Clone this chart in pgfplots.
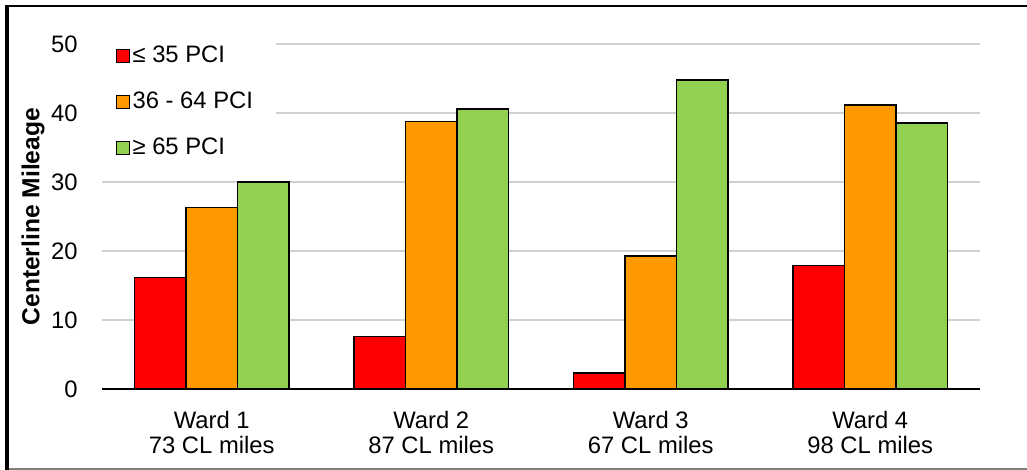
\documentclass[border=0pt]{standalone}
\usepackage{pgfplots}
\pgfplotsset{compat=1.18}
\usepackage{fontspec}
\setmainfont{Liberation Sans}

\definecolor{lowpci}{HTML}{FF0000}
\definecolor{midpci}{HTML}{FF9900}
\definecolor{highpci}{HTML}{92D050}
\definecolor{gridgray}{HTML}{D0D0D0}
\definecolor{framegray}{HTML}{7F7F7F}

% Centerline mileage by ward and pavement condition band
\pgfplotstableread{
x  low  mid  high
0  16.2 26.3 30.0
1  7.6  38.8 40.6
2  2.3  19.3 44.8
3  17.9 41.2 38.6
}\wardtable

\begin{document}
\fontsize{11.9}{12.6}\selectfont
\begin{tikzpicture}
\begin{axis}[
  at={(51pt,40.5pt)}, anchor=south west,
  scale only axis,
  width=439pt, height=172.3pt,
  xmin=-0.5, xmax=3.5,
  ymin=0, ymax=50,
  ytick={0,10,...,50},
  xtick={0,1,2,3},
  xticklabels={{Ward 1\\73 CL miles},{Ward 2\\87 CL miles},{Ward 3\\67 CL miles},{Ward 4\\98 CL miles}},
  major tick length=0pt,
  /pgf/number format/assume math mode=true,
  yticklabel style={anchor=east, inner sep=0pt},
  yticklabel shift=12pt,
  xticklabel style={align=center, anchor=north, inner sep=0pt},
  xticklabel shift=11pt,
  ymajorgrids,
  grid style={gridgray, line width=1pt},
  axis x line*=bottom,
  axis y line*=left,
  x axis line style={black, line width=1pt, -},
  y axis line style={draw=none},
  ylabel={\fontsize{12.3}{13}\selectfont\bfseries Centerline Mileage},
  every axis y label/.style={at={(axis description cs:-0.0786,0.5)}, rotate=90, anchor=center},
  ybar=0pt,
  bar width=25.75pt,
  every axis plot/.append style={draw=black, line width=0.75pt},
  legend cell align=left,
  legend style={
    at={(axis description cs:0,1)}, anchor=north west,
    xshift=-3.2pt, yshift=1pt,
    fill=white, draw=none,
    inner xsep=10pt, inner ysep=0pt,
    row sep=10pt,
    nodes={inner sep=1.5pt},
  },
  legend image code/.code={
    \draw[#1, line width=0.5pt] (0pt,-3.15pt) rectangle (6.3pt,3.15pt);
  },
]
\addplot[fill=lowpci] table[x=x, y=low] {\wardtable};
\addplot[fill=midpci] table[x=x, y=mid] {\wardtable};
\addplot[fill=highpci] table[x=x, y=high] {\wardtable};
\legend{≤ 35 PCI, 36 - 64 PCI, ≥ 65 PCI}
\end{axis}
% outer frame
\draw[black, line width=1.75pt] (3.5pt,0pt) -- (3.5pt,232.5pt);
\draw[black, line width=1pt] (2.5pt,232pt) -- (513.5pt,232pt);
\draw[framegray, line width=1pt] (4.5pt,0.5pt) -- (513.5pt,0.5pt);
\pgfresetboundingbox
\path[use as bounding box] (0pt,0pt) rectangle (513.5pt,235pt);
\end{tikzpicture}
\end{document}
